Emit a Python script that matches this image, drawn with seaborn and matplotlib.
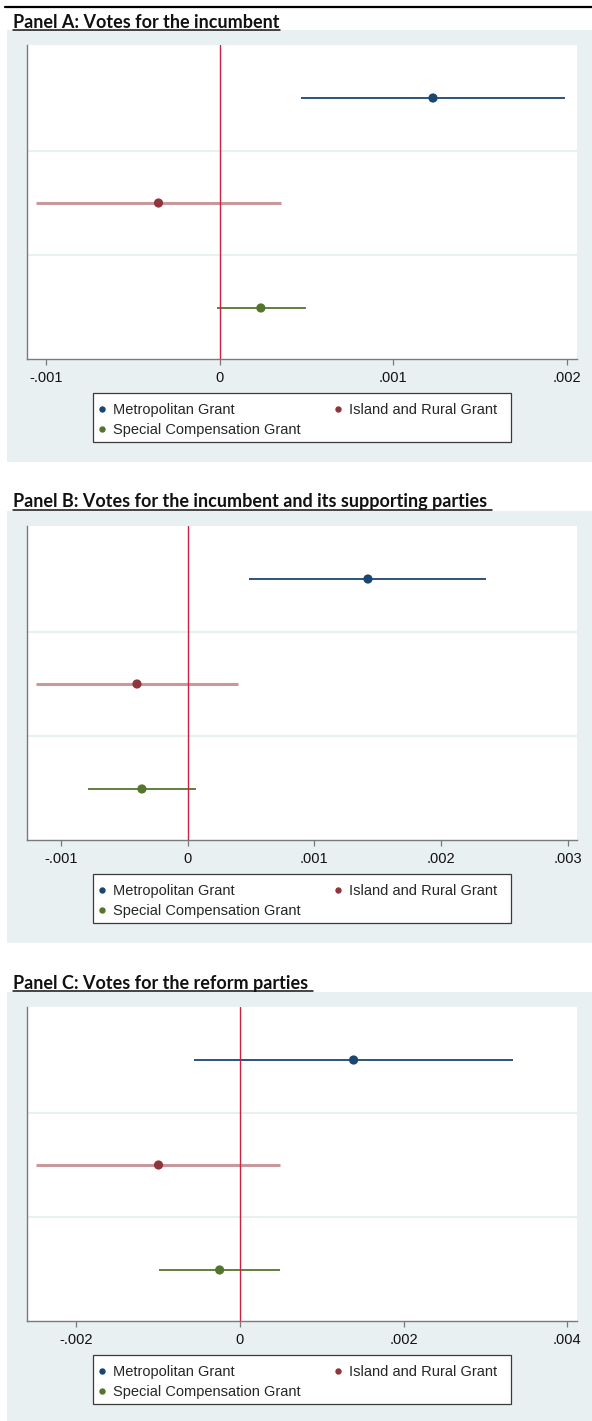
import matplotlib
matplotlib.use("Agg")
import matplotlib.pyplot as plt
from matplotlib.lines import Line2D
from matplotlib.patches import Rectangle
from matplotlib.ticker import FixedLocator, FuncFormatter
import pandas as pd
import seaborn as sns

sns.set_style("white")
plt.rcParams["font.family"] = ["Liberation Sans", "DejaVu Sans"]

# ---- data -------------------------------------------------------------
grants = ["Metropolitan Grant", "Island and Rural Grant", "Special Compensation Grant"]

titles = [
    "Panel A: Votes for the incumbent",
    "Panel B: Votes for the incumbent and its supporting parties ",
    "Panel C: Votes for the reform parties ",
]

# point estimates with lower / upper 95% confidence bounds
est_a = [0.001228, -0.000354, 0.000236]
lo_a = [0.000467, -0.001059, -0.000015]
hi_a = [0.001989, 0.000352, 0.000494]

est_b = [0.001424, -0.000399, -0.000360]
lo_b = [0.000489, -0.001194, -0.000783]
hi_b = [0.002359, 0.000396, 0.000066]

est_c = [0.001389, -0.000996, -0.000249]
lo_c = [-0.000559, -0.002491, -0.000988]
hi_c = [0.003335, 0.000494, 0.000494]

ticks_a = [-0.001, 0, 0.001, 0.002]
ticks_b = [-0.001, 0, 0.001, 0.002, 0.003]
ticks_c = [-0.002, 0, 0.002, 0.004]

# ---- styling ----------------------------------------------------------
palette = {
    "Metropolitan Grant": "#1a476f",
    "Island and Rural Grant": "#90353b",
    "Special Compensation Grant": "#55752f",
}
ci_style = {
    "Metropolitan Grant": dict(lw=1.3, alpha=1.0),
    "Island and Rural Grant": dict(lw=2.2, alpha=0.5),
    "Special Compensation Grant": dict(lw=1.3, alpha=1.0),
}
BG = "#e9f0f2"
W, H = 592, 1421


def fx(px):
    return px / W


def fy(py):
    return 1 - py / H


def stata_fmt(v, _pos):
    if abs(v) < 1e-12:
        return "0"
    s = f"{v:.3f}".rstrip("0")
    return s.replace("0.", ".")


panels = [
    dict(title=titles[0], est=est_a, lo=lo_a, hi=hi_a, ticks=ticks_a,
         xlim=(-0.001112, 0.002058), top=45, bg=(30, 462), ty=22),
    dict(title=titles[1], est=est_b, lo=lo_b, hi=hi_b, ticks=ticks_b,
         xlim=(-0.001267, 0.003074), top=526, bg=(511, 943), ty=502),
    dict(title=titles[2], est=est_c, lo=lo_c, hi=hi_c, ticks=ticks_c,
         xlim=(-0.002604, 0.004120), top=1007, bg=(992, 1421), ty=983),
]

fig = plt.figure(figsize=(W / 100, H / 100), dpi=100)
fig.patch.set_facecolor("white")

# rule across the top of the page
fig.add_artist(Line2D([fx(5), 1], [fy(7), fy(7)], color="black", lw=1.6,
                      transform=fig.transFigure))

title_texts = []
for p in panels:
    plot_h = 314
    bottom = p["top"] + plot_h

    # graph region background
    fig.add_artist(Rectangle((fx(7), fy(p["bg"][1])), fx(592) - fx(7),
                             (p["bg"][1] - p["bg"][0]) / H,
                             transform=fig.transFigure, facecolor=BG,
                             edgecolor="none", zorder=-2))

    ax = fig.add_axes([fx(27), fy(bottom), 550 / W, plot_h / H])
    ax.set_facecolor("white")

    df = pd.DataFrame({"grant": grants, "est": p["est"], "lo": p["lo"], "hi": p["hi"]})

    sns.scatterplot(data=df, x="est", y="grant", hue="grant", palette=palette,
                    s=44, linewidth=0, legend=False, zorder=5, ax=ax)

    for _, r in df.iterrows():
        ax.hlines(r["grant"], r["lo"], r["hi"], color=palette[r["grant"]],
                  zorder=2, **ci_style[r["grant"]])

    ax.axvline(0, color="#c8223f", lw=1.0, zorder=3)
    for g in (0.5, 1.5):
        ax.axhline(g, color=BG, lw=1.5, zorder=1)

    ax.set_ylim(2.486, -0.505)
    ax.set_xlim(*p["xlim"])
    ax.xaxis.set_major_locator(FixedLocator(p["ticks"]))
    ax.xaxis.set_major_formatter(FuncFormatter(stata_fmt))
    ax.set_yticks([])
    ax.set_xlabel("")
    ax.set_ylabel("")
    for side in ("top", "right"):
        ax.spines[side].set_visible(False)
    for side in ("left", "bottom"):
        ax.spines[side].set_color("#7a7a7a")
        ax.spines[side].set_linewidth(1.0)
    ax.tick_params(axis="x", direction="out", length=4, width=0.9,
                   color="#7a7a7a", labelsize=10.5, labelcolor="#111111",
                   pad=4.5, bottom=True)

    # legend with a separate frame
    lg_top = bottom + 34
    lg_bot = bottom + 83
    fig.add_artist(Rectangle((fx(93), fy(lg_bot)), fx(511) - fx(93),
                             (lg_bot - lg_top) / H, transform=fig.transFigure,
                             facecolor="white", edgecolor="#3a3a3a", lw=0.9,
                             zorder=3))
    order = [grants[0], grants[2], grants[1]]
    handles = [Line2D([], [], ls="none", marker="o", markersize=4.6,
                      markeredgewidth=0, color=palette[g]) for g in order]
    fig.legend(handles, order, loc="upper left",
               bbox_to_anchor=(fx(96), fy(lg_top + 10)),
               bbox_transform=fig.transFigure, ncol=2, frameon=False,
               fontsize=10.5, handlelength=0.8, handletextpad=0.35,
               columnspacing=2.17, borderpad=0, borderaxespad=0,
               labelspacing=0.44)

    t = fig.text(fx(13), fy(p["ty"]), p["title"], fontsize=13,
                 fontweight="bold", family=["Lato", "DejaVu Sans"],
                 va="center", ha="left", color="#111111")
    title_texts.append(t)

# underline each panel title
fig.canvas.draw()
renderer = fig.canvas.get_renderer()
for t in title_texts:
    bb = t.get_window_extent(renderer)
    y = bb.y0 + 0.5
    fig.add_artist(Line2D([bb.x0 / W, bb.x1 / W], [y / H, y / H],
                          color="#111111", lw=1.1, transform=fig.transFigure))

fig.savefig("out.png", dpi=100)
